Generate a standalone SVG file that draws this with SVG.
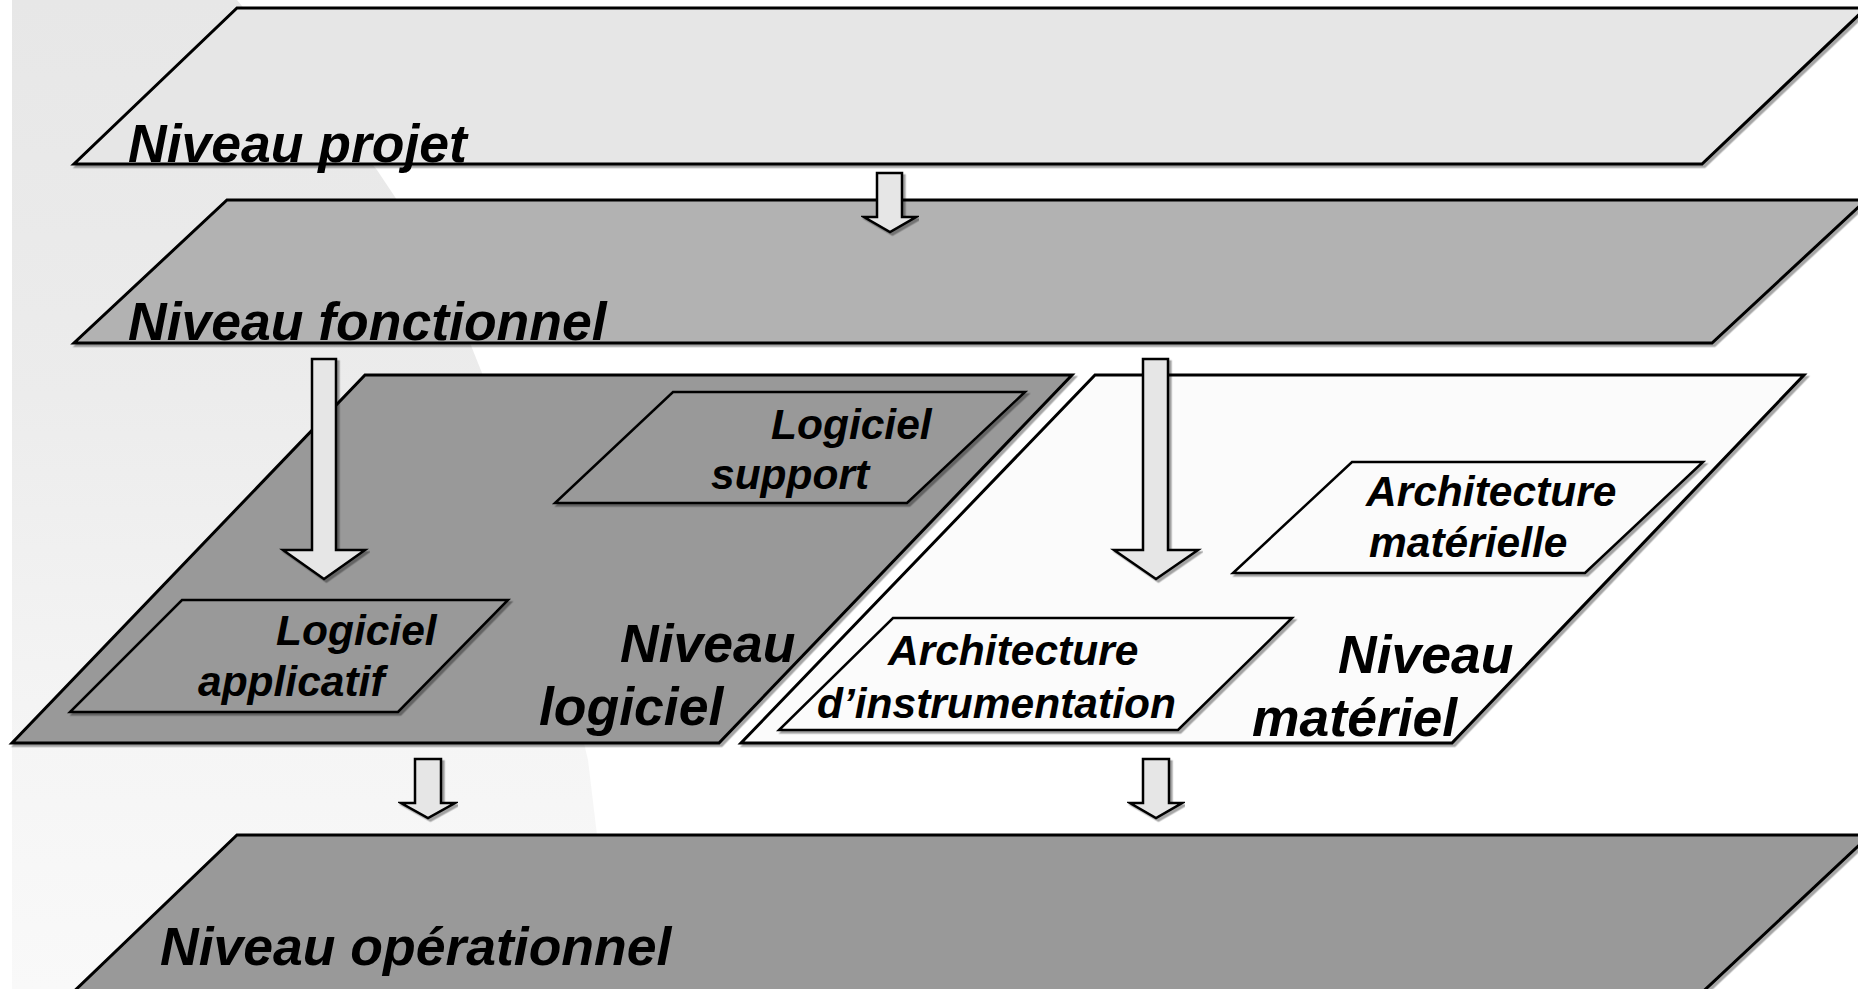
<svg xmlns="http://www.w3.org/2000/svg" width="1858" height="989" viewBox="0 0 1858 989">
<defs>
<linearGradient id="bgGrad" x1="0" y1="0" x2="0" y2="1">
<stop offset="0" stop-color="#e7e7e7"/>
<stop offset="0.4" stop-color="#ececec"/>
<stop offset="0.75" stop-color="#f5f5f5"/>
<stop offset="1" stop-color="#f9f9f9"/>
</linearGradient>
<filter id="sh" x="-5%" y="-5%" width="110%" height="115%">
<feDropShadow dx="2.5" dy="2.5" stdDeviation="0.6" flood-color="#000" flood-opacity="0.35"/>
</filter>
</defs>
<style>
.big{stroke:#000;stroke-width:3;stroke-linejoin:miter;filter:url(#sh)}
.inner{stroke:#000;stroke-width:2.5;stroke-linejoin:miter;filter:url(#sh)}
.arrow{fill:#e6e6e6;stroke:#000;stroke-width:2.5;stroke-linejoin:miter;filter:url(#sh)}
.t{font-family:"Liberation Sans",Arial,sans-serif;font-weight:bold;font-style:italic;fill:#000}
.tb{font-size:53.5px}
.ts{font-size:42.5px}
</style>
<rect x="0" y="0" width="1858" height="989" fill="#ffffff"/>
<path id="background" d="M12,0 L237,0 L377,170 L397,200 L437,270 L470,343 L482,373 L505,450 L535,550 L562,650 L588,760 L597,835 L602,989 L12,989 Z" fill="url(#bgGrad)"/>

<g id="niveau-projet">
<polygon class="big" points="237,8 1866,8 1702,164 74,164" fill="#e6e6e6"/>
<text class="t tb" x="128" y="162">Niveau projet</text>
</g>

<g id="niveau-fonctionnel">
<polygon class="big" points="227,200 1866,200 1712,343 74,343" fill="#b2b2b2"/>
<text class="t tb" x="128" y="340">Niveau fonctionnel</text>
</g>

<g id="niveau-logiciel">
<polygon class="big" points="365,375 1072,375 719,743 12,743" fill="#999999"/>
<text class="t tb" x="620" y="662">Niveau</text>
<text class="t tb" x="539" y="725">logiciel</text>
</g>

<g id="niveau-materiel">
<polygon class="big" points="1095,375 1804,375 1452,743 741,743" fill="#fbfbfb"/>
<text class="t tb" x="1338" y="673">Niveau</text>
<text class="t tb" x="1252" y="736">matériel</text>
</g>

<g id="logiciel-support">
<polygon class="inner" points="673,392 1025,392 907,503 555,503" fill="#999999"/>
<text class="t ts" x="771" y="439">Logiciel</text>
<text class="t ts" x="711" y="489">support</text>
</g>

<g id="logiciel-applicatif">
<polygon class="inner" points="182,600 508,600 398,712 70,712" fill="#999999"/>
<text class="t ts" x="276" y="645">Logiciel</text>
<text class="t ts" x="198" y="696">applicatif</text>
</g>

<g id="architecture-materielle">
<polygon class="inner" points="1352,462 1703,462 1585,573 1233,573" fill="#fbfbfb"/>
<text class="t ts" x="1366" y="506">Architecture</text>
<text class="t ts" x="1369" y="557">matérielle</text>
</g>

<g id="architecture-instrumentation">
<polygon class="inner" points="893,618 1292,618 1178,730 779,730" fill="#fbfbfb"/>
<text class="t ts" x="888" y="665">Architecture</text>
<text class="t ts" x="817" y="718">d’instrumentation</text>
</g>

<g id="niveau-operationnel">
<polygon class="big" points="237,835 1870,835 1694,1000 65,1000" fill="#999999"/>
<text class="t tb" x="160" y="965">Niveau opérationnel</text>
</g>

<g id="connectors">
<polygon class="arrow" points="877,173 902,173 902,217 916,217 890,232 864,217 877,217"/>
<polygon class="arrow" points="312,359 336,359 336,550 365,550 324,579 283,550 312,550"/>
<polygon class="arrow" points="1143,359 1168,359 1168,550 1198,550 1156,579 1114,550 1143,550"/>
<polygon class="arrow" points="415,759 441,759 441,803 455,803 428,818 401,803 415,803"/>
<polygon class="arrow" points="1143,759 1169,759 1169,803 1182,803 1156,818 1130,803 1143,803"/>
</g>
</svg>
